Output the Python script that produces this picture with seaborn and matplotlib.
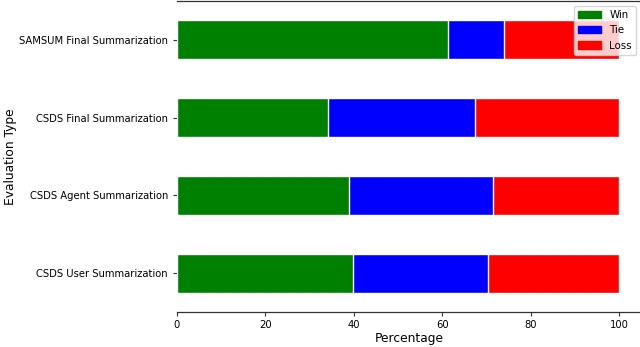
import matplotlib
matplotlib.use("Agg")
import matplotlib.pyplot as plt
import seaborn as sns
import pandas as pd
from matplotlib.patches import Patch

categories = ["SAMSUM Final Summarization", "CSDS Final Summarization",
              "CSDS Agent Summarization", "CSDS User Summarization"]
win = [61.4, 34.2, 38.9, 39.9]
tie = [12.7, 33.2, 32.5, 30.4]
loss = [25.9, 32.6, 28.6, 29.7]

df = pd.DataFrame({"type": categories, "Win": win, "Tie": tie, "Loss": loss})
df["win_end"] = df["Win"]
df["tie_end"] = df["Win"] + df["Tie"]
df["loss_end"] = df["Win"] + df["Tie"] + df["Loss"]

sns.set_style("white", rc={"text.color": "black", "axes.labelcolor": "black",
                           "xtick.color": "black", "ytick.color": "black"})
plt.rcParams["font.family"] = ["DejaVu Sans"]

fig = plt.figure(figsize=(6.4, 3.47), dpi=100)
ax = fig.add_axes([177 / 640, 35 / 347, 464 / 640, 311 / 347])

# layered bars: longest first so shorter ones sit on top
sns.barplot(data=df, y="type", x="loss_end", color="red", width=0.5,
            saturation=1, orient="h", ax=ax)
sns.barplot(data=df, y="type", x="tie_end", color="blue", width=0.5,
            saturation=1, orient="h", ax=ax)
sns.barplot(data=df, y="type", x="win_end", color="green", width=0.5,
            saturation=1, orient="h", ax=ax)

ax.set_xlim(0, 105)
ax.set_ylim(3.5, -0.5)
ax.set_xticks([0, 20, 40, 60, 80, 100])
ax.set_xlabel("Percentage", fontsize=8.8, labelpad=2)
ax.set_ylabel("Evaluation Type", fontsize=8.8, labelpad=1.5)
ax.tick_params(axis="both", labelsize=7.2, length=3, width=0.8,
               left=True, bottom=True, color="#333333")
ax.tick_params(axis="x", pad=2.5)
ax.tick_params(axis="y", pad=3.5)

for side in ["left", "right"]:
    ax.spines[side].set_visible(False)
for side in ["top", "bottom"]:
    ax.spines[side].set_visible(True)
    ax.spines[side].set_color("#333333")
    ax.spines[side].set_linewidth(0.9)

handles = [Patch(color="green", label="Win"),
           Patch(color="blue", label="Tie"),
           Patch(color="red", label="Loss")]
ax.legend(handles=handles, loc="upper right", fontsize=7.4, frameon=True,
          borderaxespad=0.5, handlelength=2.2)

fig.savefig("out.png", dpi=100)
